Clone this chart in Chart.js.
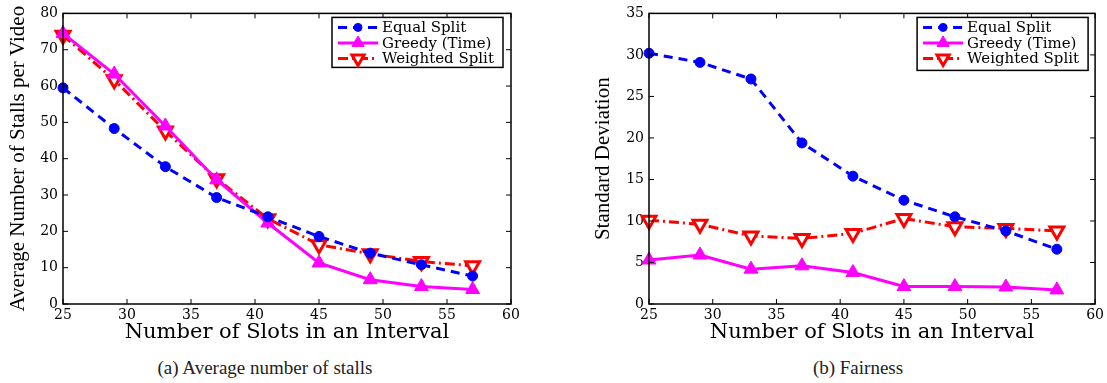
<!DOCTYPE html>
<html>
<head>
<meta charset="utf-8">
<script src="https://cdn.jsdelivr.net/npm/chart.js@4"></script>
<style>
  body { margin: 0; background: #fff; width: 1107px; height: 383px; overflow: hidden; position: relative; }
  .box { position: absolute; top: 0; }
  .caption { position: absolute; top: 357px; font-family: 'Liberation Serif', serif; font-size: 19px; color: #222; width: 300px; text-align: center; }
</style>
</head>
<body>
<div class="box" style="left:0px"><canvas id="stalls" width="560" height="345"></canvas></div>
<div class="box" style="left:560px"><canvas id="fairness" width="547" height="345"></canvas></div>
<div class="caption" style="left:115px">(a) Average number of stalls</div>
<div class="caption" style="left:708px">(b) Fairness</div>
<script>
// data
const slots = [25, 29, 33, 37, 41, 45, 49, 53, 57];
const seriesNames = ['Equal Split', 'Greedy (Time)', 'Weighted Split'];

const equalStalls    = [59.5, 48.3, 37.8, 29.3, 24.0, 18.6, 14.0, 10.8, 7.7];
const greedyStalls   = [74.5, 63.3, 49.0, 34.2, 22.3, 11.3, 6.7, 4.8, 4.0];
const weightedStalls = [74.0, 61.7, 47.6, 34.5, 23.5, 16.3, 13.8, 11.7, 10.5];

const equalStd    = [30.2, 29.1, 27.1, 19.4, 15.4, 12.5, 10.5, 8.8, 6.6];
const greedyStd   = [5.3, 5.9, 4.2, 4.6, 3.8, 2.1, 2.1, 2.05, 1.7];
const weightedStd = [10.1, 9.6, 8.2, 7.9, 8.5, 10.3, 9.3, 9.1, 8.8];

const xTicks = [25, 30, 35, 40, 45, 50, 55, 60];
const stallTicks = [0, 10, 20, 30, 40, 50, 60, 70, 80];
const stdTicks = [0, 5, 10, 15, 20, 25, 30, 35];

const tickFont = { family: '"DejaVu Serif"', size: 14 };

function pts(vals) {
    return slots.map((s, i) => ({ x: s, y: vals[i] }));
}

function makeDatasets(eq, gr, wt) {
    return [
        {
            label: seriesNames[0], data: pts(eq),
            borderColor: '#0000ff', backgroundColor: '#0000ff',
            borderWidth: 3, borderDash: [9, 6],
            pointStyle: 'circle', pointRadius: 5, pointBorderWidth: 1,
            pointBackgroundColor: '#0000ff', pointBorderColor: '#0000ff',
            clip: false
        },
        {
            label: seriesNames[1], data: pts(gr),
            borderColor: '#ff00ff', backgroundColor: '#ff00ff',
            borderWidth: 3,
            pointStyle: 'triangle', pointRadius: 8, pointBorderWidth: 1,
            pointBackgroundColor: '#ff00ff', pointBorderColor: '#ff00ff',
            clip: false
        },
        {
            label: seriesNames[2], data: pts(wt),
            borderColor: '#ff0000', backgroundColor: '#ffffff',
            borderWidth: 3, borderDash: [10, 4, 2, 4],
            pointStyle: 'triangle', pointRotation: 180, pointRadius: 8, pointBorderWidth: 3,
            pointBackgroundColor: '#ffffff', pointBorderColor: '#ff0000',
            clip: false
        }
    ];
}

// box round the plot with inward ticks, like MATLAB
const framePlugin = {
    id: 'frame',
    afterDatasetsDraw(chart) {
        const ctx = chart.ctx;
        const a = chart.chartArea;
        const xs = chart.scales.x, ys = chart.scales.y;
        ctx.save();
        ctx.strokeStyle = '#000';
        ctx.lineWidth = 1.5;
        ctx.strokeRect(a.left, a.top, a.right - a.left, a.bottom - a.top);
        ctx.lineWidth = 1;
        ctx.beginPath();
        xs.ticks.forEach(t => {
            const px = xs.getPixelForValue(t.value);
            ctx.moveTo(px, a.bottom); ctx.lineTo(px, a.bottom - 5);
            ctx.moveTo(px, a.top); ctx.lineTo(px, a.top + 5);
        });
        ys.ticks.forEach(t => {
            const py = ys.getPixelForValue(t.value);
            ctx.moveTo(a.left, py); ctx.lineTo(a.left + 5, py);
            ctx.moveTo(a.right, py); ctx.lineTo(a.right - 5, py);
        });
        ctx.stroke();
        ctx.restore();
    }
};

// legend box in the top right corner
const boxLegend = {
    id: 'boxLegend',
    afterDraw(chart, args, opts) {
        const ctx = chart.ctx;
        const a = chart.chartArea;
        const w = opts.width, h = opts.height;
        const left = a.right - opts.right - w;
        const top = a.top + 4;
        ctx.save();
        ctx.fillStyle = '#fff';
        ctx.fillRect(left, top, w, h);
        ctx.strokeStyle = '#000';
        ctx.lineWidth = 1.5;
        ctx.strokeRect(left, top, w, h);
        chart.data.datasets.forEach((ds, i) => {
            const y = top + 10 + i * 15.5;
            ctx.strokeStyle = ds.borderColor;
            ctx.lineWidth = ds.borderWidth;
            ctx.setLineDash(ds.borderDash || []);
            ctx.beginPath();
            ctx.moveTo(left + 6, y);
            ctx.lineTo(left + 46, y);
            ctx.stroke();
            ctx.setLineDash([]);
            ctx.fillStyle = ds.pointBackgroundColor;
            ctx.strokeStyle = ds.pointBorderColor;
            ctx.lineWidth = ds.pointBorderWidth;
            Chart.helpers.drawPoint(ctx, {
                pointStyle: ds.pointStyle, radius: ds.pointRadius - 1,
                rotation: ds.pointRotation || 0, borderWidth: ds.pointBorderWidth
            }, left + 26, y);
            ctx.fillStyle = '#000';
            ctx.font = '15px "DejaVu Serif"';
            ctx.textBaseline = 'middle';
            ctx.fillText(ds.label, left + 50, y + 1);
        });
        ctx.restore();
    }
};

function makeChart(id, datasets, yTicks, yMax, yTitle, opt) {
    const ctx = document.getElementById(id).getContext('2d');
    return new Chart(ctx, {
        type: 'line',
        data: { datasets: datasets },
        options: {
            responsive: false,
            animation: false,
            layout: { padding: { top: 9, right: opt.padRight, left: 0, bottom: 0 } },
            plugins: {
                legend: { display: false },
                tooltip: { enabled: false },
                boxLegend: { width: 171, height: opt.legendH, right: opt.legendRight }
            },
            scales: {
                x: {
                    type: 'linear', min: 25, max: 60,
                    afterBuildTicks: s => { s.ticks = xTicks.map(v => ({ value: v })); },
                    afterFit: s => { s.height = 41; },
                    grid: { display: false, drawTicks: false },
                    border: { display: false },
                    ticks: { color: '#000', font: tickFont, padding: 3, maxRotation: 0 },
                    title: {
                        display: true, text: 'Number of Slots in an Interval', color: '#000',
                        font: { family: '"DejaVu Serif"', size: 21 }, padding: { top: 0, bottom: 0 }
                    }
                },
                y: {
                    min: 0, max: yMax,
                    afterBuildTicks: s => { s.ticks = yTicks.map(v => ({ value: v })); },
                    afterFit: s => { s.width = opt.yWidth; },
                    grid: { display: false, drawTicks: false },
                    border: { display: false },
                    ticks: { color: '#000', font: tickFont, padding: 5 },
                    title: {
                        display: true, text: yTitle, color: '#000',
                        font: { family: '"Liberation Serif"', size: 21 },
                        padding: { top: opt.titlePad, bottom: 0 }
                    }
                }
            }
        },
        plugins: [framePlugin, boxLegend]
    });
}

makeChart('stalls', makeDatasets(equalStalls, greedyStalls, weightedStalls), stallTicks, 80,
    'Average Number of Stalls per Video',
    { padRight: 49, yWidth: 63, titlePad: 6, legendH: 50, legendRight: 8 });

makeChart('fairness', makeDatasets(equalStd, greedyStd, weightedStd), stdTicks, 35,
    'Standard Deviation',
    { padRight: 11, yWidth: 89, titlePad: 31, legendH: 53, legendRight: 7 });
</script>
</body>
</html>
